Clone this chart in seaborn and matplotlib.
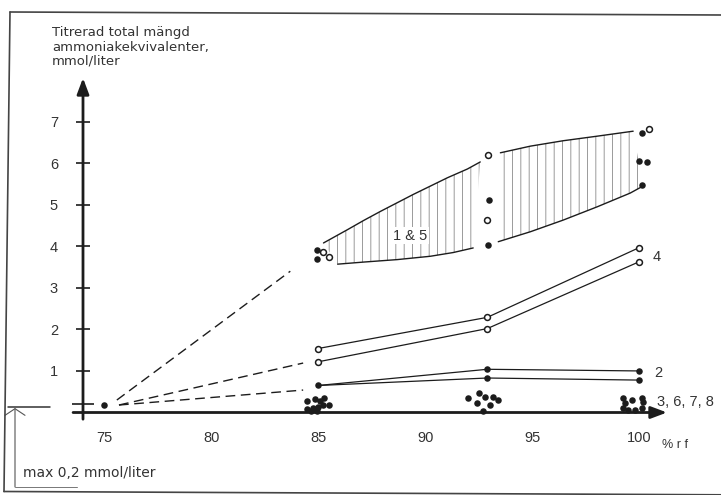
import matplotlib
matplotlib.use('Agg')
import matplotlib.pyplot as plt
from matplotlib.lines import Line2D
import numpy as np
import seaborn as sns

# Värden (x = % r f, y = mmol/liter)
start_x = [75.0]
start_y = [0.18]

# 1 & 5: gränskurvor för det skrafferade fältet
band1_hi_x = [85.25, 86.37, 87.12, 87.91, 89.45, 91.04, 91.97, 92.57]
band1_hi_y = [4.08, 4.40, 4.62, 4.84, 5.25, 5.65, 5.86, 6.03]
band1_lo_x = [85.91, 87.12, 88.70, 90.24, 91.31, 92.24]
band1_lo_y = [3.57, 3.62, 3.68, 3.76, 3.85, 3.96]
band2_hi_x = [93.51, 94.91, 96.44, 98.03, 99.71]
band2_hi_y = [6.25, 6.41, 6.54, 6.65, 6.77]
band2_lo_x = [93.41, 94.91, 96.44, 98.03, 99.57, 100.17]
band2_lo_y = [4.11, 4.35, 4.63, 4.95, 5.28, 5.45]

# 1 & 5: mätpunkter
p15_fill_x = [84.93, 84.93, 93.0, 92.95, 100.1, 100.0, 100.34, 100.11]
p15_fill_y = [3.91, 3.69, 5.11, 4.04, 6.72, 6.06, 6.04, 5.48]
p15_open_x = [85.25, 85.49, 92.95, 92.9, 100.47]
p15_open_y = [3.86, 3.74, 6.20, 4.63, 6.82]

# 4 och 2
rh = [85.0, 92.9, 100.0]
c4_a = [1.54, 2.29, 3.97]
c4_b = [1.22, 2.02, 3.63]
c2_a = [0.65, 1.04, 1.00]
c2_b = [0.65, 0.83, 0.78]

# 3, 6, 7, 8
c3_x = [84.49, 84.83, 85.27, 85.08, 84.46, 84.77, 84.99, 85.22, 85.53, 84.68, 84.93,
        92.01, 92.43, 92.52, 92.80, 93.04, 93.18, 93.41, 92.71,
        99.24, 99.34, 99.66, 100.13, 100.17, 99.24, 99.48, 99.81, 100.13]
c3_y = [0.28, 0.32, 0.36, 0.28, 0.08, 0.10, 0.14, 0.18, 0.18, 0.03, 0.03,
        0.35, 0.23, 0.47, 0.37, 0.18, 0.37, 0.30, 0.04,
        0.35, 0.23, 0.30, 0.35, 0.25, 0.11, 0.06, 0.06, 0.11]

# streckade extrapolationer ner mot 75 % r f
dash_x = [[75.6, 83.7], [75.7, 84.3], [75.7, 84.3]]
dash_y = [[0.30, 3.40], [0.18, 1.19], [0.18, 0.54]]

x_ticks = [75, 80, 85, 90, 95, 100]
y_ticks = [1, 2, 3, 4, 5, 6, 7]

sns.set_theme(style='white')
plt.rcParams['font.family'] = ['DejaVu Sans']
plt.rcParams['hatch.linewidth'] = 0.6
ink = '#1c1c1c'
W, H = 721, 495

fig = plt.figure(figsize=(W / 100, H / 100), dpi=100)
ax = fig.add_axes([83 / W, 82.5 / H, 584 / W, 334.5 / H])
ax.set_xlim(74.02, 101.29)
ax.set_ylim(0, 8.05)
for s in ax.spines.values():
    s.set_visible(False)

# skrafferat fält 1 & 5
for hx, hy, lx, ly in [(band1_hi_x, band1_hi_y, band1_lo_x, band1_lo_y),
                       (band2_hi_x, band2_hi_y, band2_lo_x, band2_lo_y)]:
    ax.fill(np.r_[hx, lx[::-1]], np.r_[hy, ly[::-1]], facecolor='none',
            edgecolor='#8a8a8a', hatch='||', linewidth=0)
    sns.lineplot(x=hx, y=hy, ax=ax, color=ink, lw=1.0, estimator=None)
    sns.lineplot(x=lx, y=ly, ax=ax, color=ink, lw=1.0, estimator=None)

# linjer för 4 och 2
for ys in [c4_a, c4_b, c2_a, c2_b]:
    sns.lineplot(x=rh, y=ys, ax=ax, color=ink, lw=0.9, estimator=None)

for dx, dy in zip(dash_x, dash_y):
    ax.plot(dx, dy, color=ink, lw=1.0, linestyle=(0, (7, 4)))

# punkter
filled_x = start_x + p15_fill_x + rh + rh[1:] + c3_x
filled_y = start_y + p15_fill_y + c2_a + c2_b[1:] + c3_y
sns.scatterplot(x=filled_x, y=filled_y, ax=ax, color=ink, s=22, linewidth=0,
                zorder=4, clip_on=False)
open_x = p15_open_x + rh + rh
open_y = p15_open_y + c4_a + c4_b
ax.scatter(open_x, open_y, s=18, facecolor='white', edgecolor=ink,
           linewidth=1.1, zorder=5, clip_on=False)

# axlar med pilar
ax.annotate('', xy=(1.0, 0), xytext=(-0.017, 0), xycoords='axes fraction',
            arrowprops=dict(arrowstyle='-|>,head_length=0.8,head_width=0.3',
                            lw=2.0, color=ink, mutation_scale=12, shrinkA=0, shrinkB=0))
ax.annotate('', xy=(0, 1.0), xytext=(0, -0.02), xycoords='axes fraction',
            arrowprops=dict(arrowstyle='-|>,head_length=0.8,head_width=0.3',
                            lw=2.0, color=ink, mutation_scale=12, shrinkA=0, shrinkB=0))

ax.set_xticks(x_ticks)
ax.set_yticks(y_ticks)
ax.set_yticks([0.2], minor=True)
ax.tick_params(axis='x', direction='out', length=5, width=1.2, color=ink,
               pad=8, labelsize=10.5, labelcolor='#333', labelfontfamily='Liberation Sans')
ax.tick_params(axis='y', which='major', direction='inout', length=10, width=1.2,
               color=ink, pad=13, labelsize=10.5, labelcolor='#333',
               labelfontfamily='Liberation Sans', left=True)
ax.tick_params(axis='y', which='minor', direction='inout', length=16, width=1.2,
               color=ink, left=True)

# etiketter
ax.text(89.3, 4.25, '1 & 5', ha='center', va='center', fontsize=10.5,
        family='Liberation Sans', color='#333',
        bbox=dict(fc='white', ec='none', pad=1))
ax.text(100.6, 3.74, '4', ha='left', va='center', fontsize=10.5,
        family='Liberation Sans', color='#333')
ax.text(100.7, 0.95, '2', ha='left', va='center', fontsize=10.5,
        family='Liberation Sans', color='#333')
ax.text(100.84, 0.25, '3, 6, 7, 8', ha='left', va='center', fontsize=10.5,
        family='Liberation Sans', color='#333', clip_on=False)

fig.text(52 / W, 1 - 26 / H, 'Titrerad total mängd\nammoniakekvivalenter,\nmmol/liter',
         ha='left', va='top', fontsize=9.5, color='#333', linespacing=1.15)
fig.text(662 / W, 1 - 445 / H, '% r f', ha='left', va='center', fontsize=9,
         family='Liberation Sans', color='#333')
fig.text(23 / W, 1 - 473 / H, 'max 0,2 mmol/liter', ha='left', va='center',
         fontsize=10, color='#333')


def fig_line(x0, y0, x1, y1, lw=1.2, color='#444'):
    fig.add_artist(Line2D([x0 / W, x1 / W], [1 - y0 / H, 1 - y1 / H],
                          transform=fig.transFigure, lw=lw, color=color))


# ram och markering för 0,2 mmol/liter
fig_line(10, 12, 721, 15)
fig_line(10, 12, 4, 491.5)
fig_line(4, 491.5, 721, 494.8)
fig_line(8, 407, 50, 407, lw=1.1, color='#333')
fig_line(15, 487, 77, 487, lw=0.7, color='#777')
ax.annotate('', xy=(15 / W, 1 - 408 / H), xytext=(15 / W, 1 - 487 / H),
            xycoords='figure fraction',
            arrowprops=dict(arrowstyle='->,head_length=0.4,head_width=0.6',
                            lw=0.8, color='#555', mutation_scale=12,
                            shrinkA=0, shrinkB=0))

fig.savefig('out.png', dpi=100, facecolor='white')
